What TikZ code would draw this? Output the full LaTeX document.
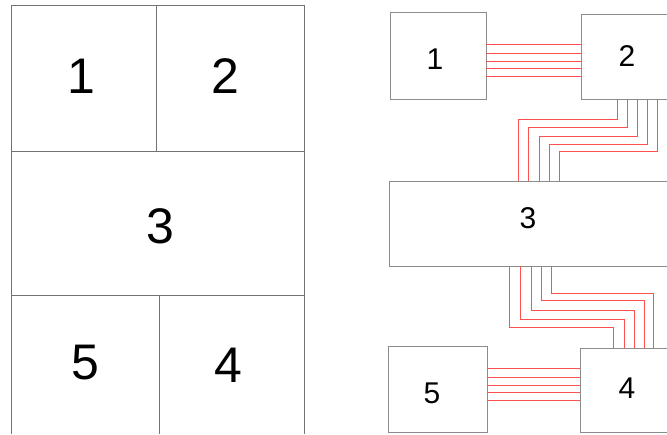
\documentclass[tikz,border=0pt]{standalone}
\usepackage{fontspec}
\setmainfont{Liberation Sans}
\definecolor{wirered}{RGB}{255,80,80}
\begin{document}
\begin{tikzpicture}[x=1pt,y=-1pt,
  cell/.style={draw=black!55,line width=0.7pt},
  boxr/.style={draw=black!45,line width=0.9pt},
  bigl/.style={font=\fontsize{50}{50}\selectfont,anchor=base,inner sep=0pt},
  smalll/.style={font=\fontsize{30}{30}\selectfont,anchor=base,inner sep=0pt},
  wire/.style={wirered,line width=0.9pt}]
\useasboundingbox (0,0) rectangle (667,434);
% left panel
\draw[cell] (11,434) -- (11,5) -- (304,5) -- (304,434);
\draw[cell] (156,5) -- (156,151);
\draw[cell] (11,151) -- (304,151);
\draw[cell] (11,295) -- (304,295);
\draw[cell] (159,295) -- (159,434);
\node[bigl] (l1) at (81,93) {1};
\node[bigl] (l2) at (225,93) {2};
\node[bigl] (l3) at (160.5,243) {3};
\node[bigl] (l5) at (85,379) {5};
\node[bigl] (l4) at (228,382) {4};
% right panel boxes
\draw[boxr] (390,12) rectangle (486,99);
\draw[boxr] (667,14) -- (581,14) -- (581,99) -- (667,99);
\draw[boxr] (667,181) -- (389,181) -- (389,266) -- (667,266);
\draw[boxr] (388,346) rectangle (487,432);
\draw[boxr] (667,348) -- (580,348) -- (580,432) -- (667,432);
\node[smalll] (r1) at (435,69.3) {1};
\node[smalll] (r2) at (627,66) {2};
\node[smalll] (r3) at (528,228) {3};
\node[smalll] (r5) at (432,403) {5};
\node[smalll] (r4) at (627,398) {4};
% wires 1-2
\draw[wire] (486,44.3) -- (581,44.3);
\draw[wire] (486,53.3) -- (581,53.3);
\draw[wire] (486,61) -- (581,61);
\draw[wire] (486,68.7) -- (581,68.7);
\draw[wire] (486,76) -- (581,76);
% wires 5-4
\draw[wire] (487,368.3) -- (580,368.3);
\draw[wire] (487,377.7) -- (580,377.7);
\draw[wire] (487,385) -- (580,385);
\draw[wire] (487,392.7) -- (580,392.7);
\draw[wire] (487,400.3) -- (580,400.3);
% wires 2-3
\draw[wire] (617,99) -- (617,119) -- (518,119) -- (518,181);
\draw[wire] (627.3,99) -- (627.3,127.3) -- (528.7,127.3) -- (528.7,181);
\draw[wire] (637.7,99) -- (637.7,136) -- (539,136) -- (539,181);
\draw[wire] (647.7,99) -- (647.7,144) -- (549.3,144) -- (549.3,181);
\draw[wire] (657.3,99) -- (657.3,151.7) -- (559,151.7) -- (559,181);
% wires 3-4
\draw[wire] (509.3,266) -- (509.3,327.7) -- (613.3,327.7) -- (613.3,348);
\draw[wire] (520.3,266) -- (520.3,319.3) -- (624.3,319.3) -- (624.3,348);
\draw[wire] (531.7,266) -- (531.7,310.7) -- (634.3,310.7) -- (634.3,348);
\draw[wire] (541.7,266) -- (541.7,300) -- (644.3,300) -- (644.3,348);
\draw[wire] (551.7,266) -- (551.7,293.3) -- (653.3,293.3) -- (653.3,348);
\end{tikzpicture}
\end{document}
